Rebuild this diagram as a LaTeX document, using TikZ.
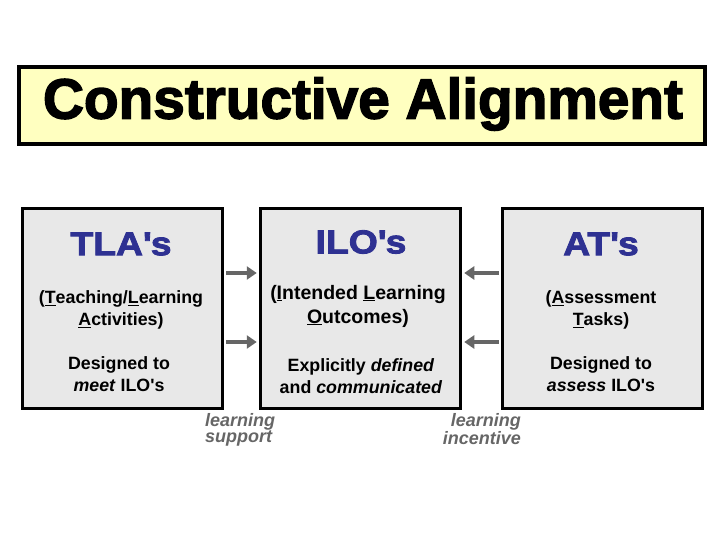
\documentclass[tikz,border=0pt]{standalone}
\usepackage{fontspec}
\setmainfont{Liberation Sans}
\newfontfamily\heavy{Liberation Sans Bold}[FakeBold=2.5]
\newfontfamily\semiheavy{Liberation Sans Bold}[FakeBold=2.5,FakeStretch=1.13]
\usetikzlibrary{arrows.meta,calc}
\definecolor{titlefill}{HTML}{FFFFC0}
\definecolor{boxfill}{HTML}{E8E8E8}
\definecolor{headblue}{HTML}{2E3192}
\definecolor{arrgrey}{HTML}{666666}
\newcommand{\sq}{\textquotesingle}
\tikzset{
  box/.style={draw=black, line width=3.5pt, fill=boxfill, minimum width=200pt, minimum height=200pt, inner sep=0pt},
  head/.style={text=headblue, font=\semiheavy\fontsize{33}{38}\selectfont, inner sep=0pt},
  body/.style={align=center, font=\bfseries\fontsize{17.8}{21.5}\selectfont, inner sep=0pt},
  lbl/.style={text=arrgrey, font=\bfseries\itshape\fontsize{18}{15}\selectfont, inner sep=0pt},
  arr/.style={draw=arrgrey, line width=4pt, -{Triangle[length=10pt,width=13pt]}, shorten <=2pt, shorten >=2pt}
}
\begin{document}
\begin{tikzpicture}[x=1pt,y=-1pt]
\useasboundingbox (0,0) rectangle (720,540);
% title
\node[draw=black, line width=3.5pt, fill=titlefill, minimum width=686pt, minimum height=77pt, inner sep=0pt] (title) at (362,105.5) {};
\node[inner sep=0pt, text=black] (titletext) at (363,104) {\resizebox{640pt}{!}{\heavy\fontsize{44}{48}\selectfont Constructive Alignment}};
% boxes
\node[box] (tla) at (122.5,308.5) {};
\node[box] (ilo) at (360.5,308.5) {};
\node[box] (at) at (602.5,308.5) {};
% headings
\node[head] (tlah) at (121,244) {TLA\sq s};
\node[head] (iloh) at (361,242) {ILO\sq s};
\node[head] (ath) at (601,244) {AT\sq s};
% body texts
\node[body] (tla1) at (121,310) {(\underline{T}eaching/\underline{L}earning\\\underline{A}ctivities)};
\node[body] (tla2) at (119,374) {Designed to\\\textit{meet} ILO\sq s};
\node[body, font=\bfseries\fontsize{19.5}{24}\selectfont] (ilo1) at (358,306) {(\underline{I}ntended \underline{L}earning\\\underline{O}utcomes)};
\node[body] (ilo2) at (361,376) {Explicitly \textit{defined}\\and \textit{communicated}};
\node[body] (at1) at (601,310) {(\underline{A}ssessment\\\underline{T}asks)};
\node[body] (at2) at (601,374) {Designed to\\\textit{assess} ILO\sq s};
% arrows
\coordinate (r1) at (0,273);
\coordinate (r2) at (0,342);
\draw[arr] (tla.east |- r1) -- (ilo.west |- r1);
\draw[arr] (tla.east |- r2) -- (ilo.west |- r2);
\draw[arr] (at.west |- r1) -- (ilo.east |- r1);
\draw[arr] (at.west |- r2) -- (ilo.east |- r2);
% labels
\node[lbl, align=left, anchor=north west] (ls) at (205,413) {learning\\support};
\node[lbl, align=right, anchor=north east] (li) at (521,413) {learning\\incentive};
\end{tikzpicture}
\end{document}
